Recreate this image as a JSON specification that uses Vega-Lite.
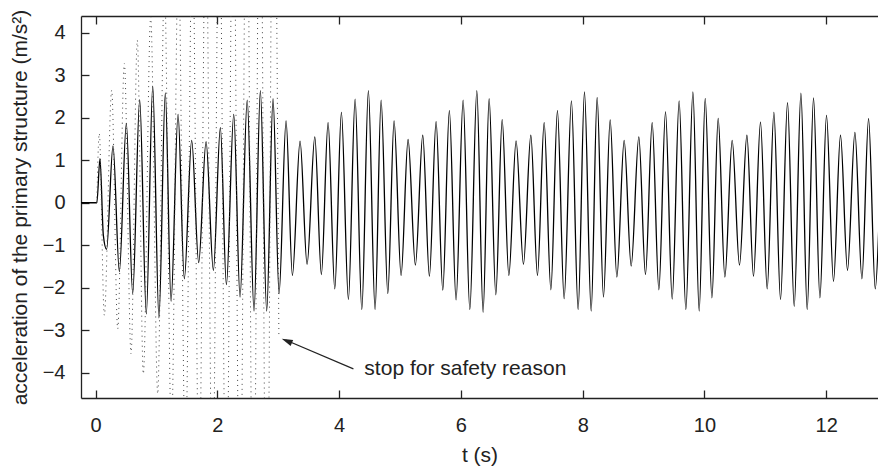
{
  "$schema": "https://vega.github.io/schema/vega-lite/v6.json",
  "width": 797,
  "height": 382,
  "autosize": {"type": "none"},
  "padding": {"left": 81, "top": 16, "right": 0, "bottom": 69},
  "background": "white",
  "config": {
    "view": {"stroke": null},
    "font": "Liberation Sans",
    "axis": {
      "grid": false,
      "domainColor": "#222",
      "domainWidth": 1.3,
      "tickColor": "#222",
      "tickWidth": 1.3,
      "labelFont": "Liberation Sans",
      "labelFontSize": 20,
      "labelColor": "#222",
      "titleFont": "Liberation Sans",
      "titleFontSize": 21,
      "titleFontWeight": "normal",
      "titleColor": "#222"
    }
  },
  "datasets": {
    "solid": [
      {"t": -0.24, "a": 0}, {"t": 0.02, "a": 0}, {"t": 0.072, "a": 1.04}, {"t": 0.127, "a": -0.77}, {"t": 0.18, "a": -1.1},
      {"t": 0.286, "a": 1.34}, {"t": 0.39, "a": -1.62}, {"t": 0.505, "a": 1.87}, {"t": 0.609, "a": -2.14}, {"t": 0.724, "a": 2.43},
      {"t": 0.833, "a": -2.62}, {"t": 0.938, "a": 2.75}, {"t": 1.04, "a": -2.71}, {"t": 1.145, "a": 2.59}, {"t": 1.239, "a": -2.32},
      {"t": 1.354, "a": 2.08}, {"t": 1.457, "a": -1.79}, {"t": 1.578, "a": 1.47}, {"t": 1.693, "a": -1.41}, {"t": 1.814, "a": 1.44},
      {"t": 1.934, "a": -1.59}, {"t": 2.049, "a": 1.77}, {"t": 2.148, "a": -1.93}, {"t": 2.269, "a": 2.08}, {"t": 2.372, "a": -2.22},
      {"t": 2.49, "a": 2.42}, {"t": 2.602, "a": -2.55}, {"t": 2.706, "a": 2.64}, {"t": 2.81, "a": -2.55}, {"t": 2.914, "a": 2.45},
      {"t": 3.013, "a": -2.14}, {"t": 3.128, "a": 1.93}, {"t": 3.232, "a": -1.71}, {"t": 3.358, "a": 1.45}, {"t": 3.473, "a": -1.45},
      {"t": 3.6, "a": 1.55}, {"t": 3.708, "a": -1.69}, {"t": 3.818, "a": 1.89}, {"t": 3.928, "a": -2.03}, {"t": 4.037, "a": 2.13},
      {"t": 4.152, "a": -2.28}, {"t": 4.262, "a": 2.44}, {"t": 4.372, "a": -2.52}, {"t": 4.48, "a": 2.64}, {"t": 4.59, "a": -2.52},
      {"t": 4.689, "a": 2.42}, {"t": 4.799, "a": -2.14}, {"t": 4.902, "a": 1.93}, {"t": 5.017, "a": -1.71}, {"t": 5.132, "a": 1.49},
      {"t": 5.252, "a": -1.47}, {"t": 5.373, "a": 1.59}, {"t": 5.482, "a": -1.73}, {"t": 5.592, "a": 1.91}, {"t": 5.702, "a": -2.06},
      {"t": 5.81, "a": 2.17}, {"t": 5.92, "a": -2.29}, {"t": 6.036, "a": 2.42}, {"t": 6.146, "a": -2.52}, {"t": 6.261, "a": 2.64},
      {"t": 6.364, "a": -2.58}, {"t": 6.463, "a": 2.45}, {"t": 6.573, "a": -2.17}, {"t": 6.677, "a": 1.96}, {"t": 6.787, "a": -1.71},
      {"t": 6.906, "a": 1.46}, {"t": 7.027, "a": -1.45}, {"t": 7.148, "a": 1.59}, {"t": 7.257, "a": -1.71}, {"t": 7.367, "a": 1.89},
      {"t": 7.477, "a": -2.05}, {"t": 7.585, "a": 2.17}, {"t": 7.695, "a": -2.26}, {"t": 7.815, "a": 2.4}, {"t": 7.925, "a": -2.52},
      {"t": 8.029, "a": 2.61}, {"t": 8.139, "a": -2.55}, {"t": 8.237, "a": 2.48}, {"t": 8.341, "a": -2.22}, {"t": 8.451, "a": 1.95},
      {"t": 8.561, "a": -1.75}, {"t": 8.681, "a": 1.47}, {"t": 8.796, "a": -1.49}, {"t": 8.922, "a": 1.55}, {"t": 9.031, "a": -1.69},
      {"t": 9.141, "a": 1.89}, {"t": 9.251, "a": -2.05}, {"t": 9.36, "a": 2.14}, {"t": 9.47, "a": -2.27}, {"t": 9.584, "a": 2.4},
      {"t": 9.694, "a": -2.52}, {"t": 9.81, "a": 2.61}, {"t": 9.913, "a": -2.55}, {"t": 10.012, "a": 2.46}, {"t": 10.122, "a": -2.24},
      {"t": 10.225, "a": 1.99}, {"t": 10.335, "a": -1.75}, {"t": 10.455, "a": 1.47}, {"t": 10.575, "a": -1.47}, {"t": 10.697, "a": 1.59},
      {"t": 10.805, "a": -1.73}, {"t": 10.92, "a": 1.9}, {"t": 11.03, "a": -2.03}, {"t": 11.14, "a": 2.13}, {"t": 11.249, "a": -2.28},
      {"t": 11.364, "a": 2.36}, {"t": 11.474, "a": -2.44}, {"t": 11.584, "a": 2.58}, {"t": 11.687, "a": -2.52}, {"t": 11.791, "a": 2.47},
      {"t": 11.896, "a": -2.24}, {"t": 12.004, "a": 2.06}, {"t": 12.119, "a": -1.85}, {"t": 12.234, "a": 1.59}, {"t": 12.349, "a": -1.59},
      {"t": 12.471, "a": 1.66}, {"t": 12.586, "a": -1.79}, {"t": 12.695, "a": 1.98}, {"t": 12.805, "a": -2.03}, {"t": 12.87, "a": -0.3}
    ],
    "dotted": [
      {"t": 0.02, "a": 0}, {"t": 0.06, "a": 1.63}, {"t": 0.143, "a": -2.65}, {"t": 0.264, "a": 2.65}, {"t": 0.363, "a": -2.97},
      {"t": 0.472, "a": 3.28}, {"t": 0.582, "a": -3.56}, {"t": 0.685, "a": 3.83}, {"t": 0.784, "a": -4.03}, {"t": 0.905, "a": 4.38},
      {"t": 1.02, "a": -4.5}, {"t": 1.13, "a": 5.2}, {"t": 1.245, "a": -5.5}, {"t": 1.36, "a": 5.9}, {"t": 1.475, "a": -6.2},
      {"t": 1.59, "a": 6.6}, {"t": 1.7, "a": -6.9}, {"t": 1.81, "a": 7.3}, {"t": 1.92, "a": -7.6}, {"t": 2.03, "a": 8.0},
      {"t": 2.145, "a": -8.3}, {"t": 2.26, "a": 8.7}, {"t": 2.37, "a": -9.0}, {"t": 2.48, "a": 9.3}, {"t": 2.59, "a": -9.6},
      {"t": 2.7, "a": 10.0}, {"t": 2.81, "a": -10.3}, {"t": 2.92, "a": 10.6}, {"t": 3.01, "a": -3.17}
    ]
  },
  "resolve": {"axis": {"x": "independent", "y": "independent"}},
  "layer": [
    {
      "data": {"name": "solid"},
      "mark": {"type": "line", "interpolate": "monotone", "clip": true, "color": "#000", "strokeWidth": 1.3},
      "encoding": {
        "x": {"field": "t", "type": "quantitative", "scale": {"domain": [-0.24, 12.85], "nice": false, "zero": false},
              "axis": {"orient": "bottom", "title": "t (s)", "values": [0, 2, 4, 6, 8, 10, 12], "ticks": false, "tickSize": 0, "labelPadding": 17, "titlePadding": 9}},
        "y": {"field": "a", "type": "quantitative", "scale": {"domain": [-4.6, 4.4], "nice": false, "zero": false},
              "axis": {"orient": "left", "title": "acceleration of the primary structure (m/s²)", "values": [-4, -3, -2, -1, 0, 1, 2, 3, 4], "ticks": false, "tickSize": 0, "labelPadding": 16, "titlePadding": 12}}
      }
    },
    {
      "data": {"name": "dotted"},
      "mark": {"type": "line", "interpolate": "monotone", "clip": true, "color": "#444", "strokeWidth": 1, "strokeDash": [1, 4]},
      "encoding": {
        "x": {"field": "t", "type": "quantitative", "scale": {"domain": [-0.24, 12.85], "nice": false, "zero": false},
              "axis": {"orient": "top", "labels": false, "title": null, "ticks": false, "tickSize": 0, "values": [0, 2, 4, 6, 8, 10, 12]}},
        "y": {"field": "a", "type": "quantitative", "scale": {"domain": [-4.6, 4.4], "nice": false, "zero": false}, "axis": null}
      }
    },
    {
      "data": {"values": [{}]},
      "mark": {"type": "rule", "color": "#222", "strokeWidth": 1.2},
      "encoding": {
        "x": {"datum": 4.234, "type": "quantitative", "scale": {"domain": [-0.24, 12.85], "nice": false, "zero": false},
              "axis": {"orient": "bottom", "offset": -8, "domain": false, "labels": false, "title": null, "ticks": true, "tickSize": 8, "values": [0, 2, 4, 6, 8, 10, 12]}},
        "y": {"datum": -3.913, "type": "quantitative", "scale": {"domain": [-4.6, 4.4], "nice": false, "zero": false},
              "axis": {"orient": "left", "offset": -8, "domain": false, "labels": false, "title": null, "ticks": true, "tickSize": 8, "values": [-4, -3, -2, -1, 0, 1, 2, 3, 4]}},
        "x2": {"datum": 3.12},
        "y2": {"datum": -3.235}
      }
    },
    {
      "data": {"values": [{}]},
      "mark": {"type": "point", "shape": "M0,0L0.3,1L-0.3,1Z", "filled": true, "color": "#222", "opacity": 1, "size": 484, "angle": 292.7},
      "encoding": {
        "x": {"datum": 3.057, "type": "quantitative", "scale": {"domain": [-0.24, 12.85], "nice": false, "zero": false},
              "axis": {"orient": "top", "offset": -8, "domain": false, "labels": false, "title": null, "ticks": true, "tickSize": 8, "values": [0, 2, 4, 6, 8, 10, 12]}},
        "y": {"datum": -3.205, "type": "quantitative", "scale": {"domain": [-4.6, 4.4], "nice": false, "zero": false}, "axis": null}
      }
    },
    {
      "data": {"values": [{}]},
      "mark": {"type": "text", "text": "stop for safety reason", "align": "left", "baseline": "middle", "font": "Liberation Sans", "fontSize": 21, "color": "#222"},
      "encoding": {
        "x": {"datum": 4.414, "type": "quantitative", "scale": {"domain": [-0.24, 12.85], "nice": false, "zero": false}, "axis": null},
        "y": {"datum": -3.905, "type": "quantitative", "scale": {"domain": [-4.6, 4.4], "nice": false, "zero": false}, "axis": null}
      }
    }
  ]
}
